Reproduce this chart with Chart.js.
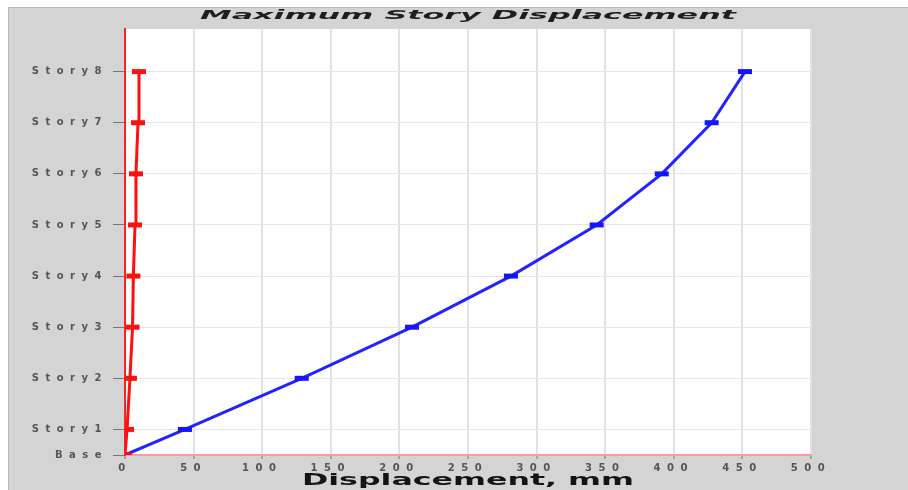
<!DOCTYPE html>
<html>
<head>
<meta charset="utf-8">
<script src="https://cdn.jsdelivr.net/npm/chart.js@4.4.1/dist/chart.umd.min.js"></script>
<style>
  html, body { margin: 0; padding: 0; background: #d4d4d4; }
  canvas { display: block; }
</style>
</head>
<body>
<canvas id="drift_chart" width="908" height="490"></canvas>
<script>
// story names and their elevations (m) used for the vertical axis
const storyNames = ["Base", "Story1", "Story2", "Story3", "Story4", "Story5", "Story6", "Story7", "Story8"];
const storyElev = [0, 1.5, 4.5, 7.5, 10.5, 13.5, 16.5, 19.5, 22.5];

// max displacement (mm) per story
const dispX = [0, 43.7, 128.8, 209.2, 281.3, 343.8, 391.2, 427.6, 451.9];
const dispY = [0, 1.5, 3.6, 5.5, 6.1, 7.3, 8.0, 9.5, 10.2];

const xTicks = [0, 50, 100, 150, 200, 250, 300, 350, 400, 450, 500];

const toPoints = (vals) => vals.map((v, i) => ({ x: v, y: storyElev[i] }));

// draws a string stretched horizontally to a given width
const stretchText = (ctx, text, cx, cy, font, width, color) => {
    ctx.save();
    ctx.font = font;
    ctx.fillStyle = color;
    ctx.textAlign = "center";
    ctx.textBaseline = "middle";
    const w = ctx.measureText(text).width;
    const sx = width / w;
    ctx.translate(cx, cy);
    ctx.scale(sx, 1);
    ctx.fillText(text, 0, 0);
    ctx.restore();
};

const frame = {
    id: "frame",
    beforeDraw(chart) {
        const { ctx, chartArea } = chart;
        ctx.save();
        ctx.fillStyle = "#ffffff";
        ctx.fillRect(0, 0, chart.width, chart.height);
        ctx.fillStyle = "#d4d4d4";
        ctx.fillRect(8, 7, chart.width - 8, chart.height - 7);
        ctx.fillStyle = "#b8b8b8";
        ctx.fillRect(8, 7, 1, chart.height - 7);
        ctx.fillRect(8, 7, chart.width - 8, 1);
        ctx.fillStyle = "#ffffff";
        ctx.fillRect(chartArea.left, chartArea.top, chartArea.right - chartArea.left, chartArea.bottom - chartArea.top);
        ctx.restore();
        ctx.letterSpacing = "6.5px";
    },
    afterDraw(chart) {
        const { ctx, chartArea } = chart;
        ctx.letterSpacing = "0px";
        const mid = (chartArea.left + chartArea.right) / 2;
        stretchText(ctx, "Maximum Story Displacement", mid, 16, "bold italic 13px 'DejaVu Sans'", 536, "#1e1e1e");
        stretchText(ctx, "Displacement, mm", mid, 481, "bold 16px 'DejaVu Sans'", 332, "#141414");
    },
};

const createChart = () => {
    const ctx = document.querySelector("#drift_chart");
    return new Chart(ctx, {
        type: "line",
        data: {
            datasets: [
                {
                    label: "Y",
                    data: toPoints(dispY),
                    borderColor: "#ff1010",
                    backgroundColor: "#ff1010",
                    borderWidth: 3,
                    pointStyle: "line",
                    pointRadius: 7,
                    pointBorderWidth: 5,
                    pointBorderColor: "#ff1010",
                },
                {
                    label: "X",
                    data: toPoints(dispX),
                    borderColor: "#2323ff",
                    backgroundColor: "#2323ff",
                    borderWidth: 3,
                    pointStyle: "line",
                    pointRadius: 7,
                    pointBorderWidth: 5,
                    pointBorderColor: "#1414ff",
                },
            ],
        },
        options: {
            responsive: false,
            animation: false,
            layout: { padding: { top: 29, right: 97, bottom: 0, left: 0 } },
            plugins: {
                legend: { display: false },
                title: { display: false },
                tooltip: { enabled: false },
            },
            scales: {
                x: {
                    type: "linear",
                    min: 0,
                    max: 500,
                    afterBuildTicks: (scale) => {
                        scale.ticks = xTicks.map((v) => ({ value: v }));
                    },
                    afterFit: (scale) => {
                        scale.height = 35;
                    },
                    ticks: {
                        color: "#555",
                        font: { family: "DejaVu Sans", size: 10, weight: "bold" },
                        padding: 3,
                        maxRotation: 0,
                        autoSkip: false,
                    },
                    grid: {
                        color: "#e2e2e2",
                        lineWidth: 2,
                        tickLength: 4,
                        tickColor: "#777",
                        tickWidth: 1,
                    },
                    border: { color: "#ff9a9a", width: 2 },
                },
                y: {
                    type: "linear",
                    min: 0,
                    max: 25,
                    afterBuildTicks: (scale) => {
                        scale.ticks = storyElev.map((v) => ({ value: v }));
                    },
                    afterFit: (scale) => {
                        scale.width = 125;
                    },
                    ticks: {
                        color: "#555",
                        font: { family: "DejaVu Sans", size: 10, weight: "bold" },
                        padding: 5,
                        autoSkip: false,
                        callback: (v) => storyNames[storyElev.indexOf(v)],
                    },
                    grid: {
                        color: "#e6e6e6",
                        lineWidth: 1,
                        tickLength: 12,
                        tickColor: "#777",
                    },
                    border: { color: "#ff2020", width: 2 },
                },
            },
        },
        plugins: [frame],
    });
};

createChart();
</script>
</body>
</html>
